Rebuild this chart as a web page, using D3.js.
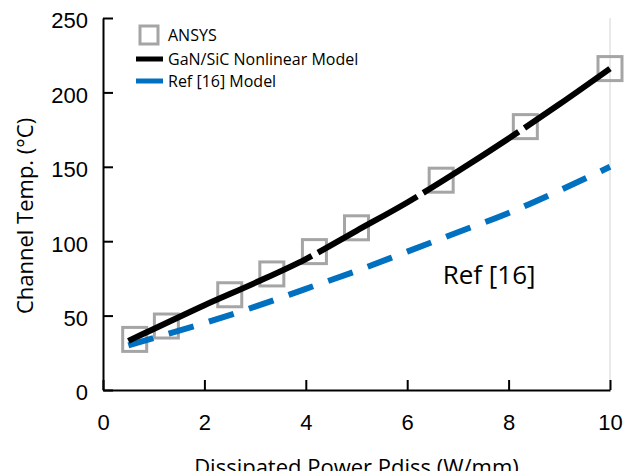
<!DOCTYPE html>
<html>
<head>
<meta charset="utf-8">
<script src="https://cdn.jsdelivr.net/npm/d3@7"></script>
<style>
  html, body { margin: 0; padding: 0; background: #fff; }
  svg { display: block; font-family: "Open Sans", sans-serif; }
</style>
</head>
<body>
<div id="chart"></div>
<script>
// ANSYS simulation points
const ansysX = [0.625, 1.25, 2.5, 3.33, 4.17, 5, 6.67, 8.33, 10];
const ansysY = [34, 43, 64, 78, 93, 109, 141, 177, 216];

// model curves
const modelX = [0.5, 1, 2, 3, 4, 5, 6, 7, 8, 9, 10];
const nonlinearY = [33, 41, 57, 72, 88, 107, 126, 147, 169, 192, 216];
const ref16Y = [30, 35, 45, 56, 68, 80, 93, 106, 119, 134, 150];

const xTicks = [0, 2, 4, 6, 8, 10];
const yTicks = [0, 50, 100, 150, 200, 250];

const width = 624;
const height = 476;
const margin = { top: 18, right: 14, bottom: 86, left: 103 };
const innerW = width - margin.left - margin.right;
const innerH = height - margin.top - margin.bottom;

const svg = d3.select('#chart').append('svg')
  .attr('width', width)
  .attr('height', height);

const g = svg.append('g')
  .attr('transform', `translate(${margin.left},${margin.top})`);

const x = d3.scaleLinear().domain([0, 10]).range([0, innerW]);
const y = d3.scaleLinear().domain([0, 250]).range([innerH, 0]);

// light right border of plot area
g.append('line')
  .attr('x1', x(10)).attr('x2', x(10))
  .attr('y1', y(250)).attr('y2', y(0))
  .attr('stroke', '#d4d4d4')
  .attr('stroke-width', 1);

// axes, ticks pointing inward
const xAxis = g.append('g')
  .attr('transform', `translate(0,${innerH})`)
  .call(d3.axisBottom(x).tickValues(xTicks).tickSizeInner(-10).tickSizeOuter(0).tickPadding(0));
xAxis.select('.domain').attr('stroke', '#000').attr('stroke-width', 2);
xAxis.selectAll('.tick line').attr('stroke', '#000').attr('stroke-width', 2);
xAxis.selectAll('.tick text').remove();
xAxis.selectAll('.tick').append('text')
  .attr('y', 40)
  .attr('text-anchor', 'middle')
  .attr('fill', '#000')
  .style('font-size', '22px')
  .text(d => d);

const yAxis = g.append('g')
  .call(d3.axisLeft(y).tickValues(yTicks).tickSizeInner(-10).tickSizeOuter(0));
yAxis.select('.domain').attr('stroke', '#000').attr('stroke-width', 2);
yAxis.selectAll('.tick line').attr('stroke', '#000').attr('stroke-width', 2);
yAxis.selectAll('.tick text').remove();
yAxis.selectAll('.tick').append('text')
  .attr('x', -15)
  .attr('y', 2)
  .attr('dy', '0.36em')
  .attr('text-anchor', 'end')
  .attr('fill', '#000')
  .style('font-size', '22px')
  .text(d => d);

// ANSYS markers (under the lines)
const ansys = ansysX.map((d, i) => [d, ansysY[i]]);
const mk = 24;
g.selectAll('.ansys')
  .data(ansys)
  .enter()
  .append('rect')
  .attr('class', 'ansys')
  .attr('x', d => x(d[0]) - mk / 2)
  .attr('y', d => y(d[1]) - mk / 2)
  .attr('width', mk)
  .attr('height', mk)
  .attr('fill', 'none')
  .attr('stroke', '#a5a5a5')
  .attr('stroke-width', 3);

const line = d3.line()
  .x(d => x(d[0]))
  .y(d => y(d[1]))
  .curve(d3.curveMonotoneX);

g.append('path')
  .datum(modelX.map((d, i) => [d, ref16Y[i]]))
  .attr('d', line)
  .attr('fill', 'none')
  .attr('stroke', '#0070c0')
  .attr('stroke-width', 6)
  .attr('stroke-dasharray', '26,16');

const nlPath = g.append('path')
  .datum(modelX.map((d, i) => [d, nonlinearY[i]]))
  .attr('d', line)
  .attr('fill', 'none')
  .attr('stroke', '#000')
  .attr('stroke-width', 6);

// the black curve shows a few short breaks; find path lengths at those x spots
const breaksAt = [4.12, 6.2, 8.2];
const node = nlPath.node();
const total = node.getTotalLength();
function lengthAtX(px) {
  let lo = 0, hi = total;
  for (let k = 0; k < 40; k++) {
    const mid = (lo + hi) / 2;
    if (node.getPointAtLength(mid).x < px) lo = mid; else hi = mid;
  }
  return lo;
}
const gap = 7;
let prev = 0;
const dash = [];
breaksAt.forEach(b => {
  const L = lengthAtX(x(b));
  dash.push(L - prev, gap);
  prev = L + gap;
});
dash.push(total);
nlPath.attr('stroke-dasharray', dash.join(','));

// "Ref [16]" annotation
g.append('text')
  .attr('x', x(6.7))
  .attr('y', y(71))
  .attr('fill', '#000')
  .style('font-size', '26px')
  .text('Ref [16]');

// legend
const legend = svg.append('g');
legend.append('rect')
  .attr('x', 140).attr('y', 26)
  .attr('width', 18).attr('height', 18)
  .attr('fill', 'none')
  .attr('stroke', '#a5a5a5')
  .attr('stroke-width', 3);
legend.append('line')
  .attr('x1', 136).attr('x2', 163)
  .attr('y1', 59).attr('y2', 59)
  .attr('stroke', '#000').attr('stroke-width', 5);
legend.append('line')
  .attr('x1', 136).attr('x2', 163)
  .attr('y1', 81).attr('y2', 81)
  .attr('stroke', '#0070c0').attr('stroke-width', 5);
const legendLabels = ['ANSYS', 'GaN/SiC Nonlinear Model', 'Ref [16] Model'];
const legendY = [35, 59, 81];
legend.selectAll('.lt')
  .data(legendLabels)
  .enter()
  .append('text')
  .attr('class', 'lt')
  .attr('x', 168)
  .attr('y', (d, i) => legendY[i])
  .attr('dy', '0.36em')
  .attr('fill', '#000')
  .style('font-size', '16px')
  .text(d => d);

// axis titles
svg.append('text')
  .attr('transform', `translate(33,${margin.top + innerH / 2 + 12}) rotate(-90)`)
  .attr('text-anchor', 'middle')
  .attr('fill', '#000')
  .style('font-size', '22px')
  .text('Channel Temp. (°C)');

svg.append('text')
  .attr('x', margin.left + innerW / 2)
  .attr('y', 475)
  .attr('text-anchor', 'middle')
  .attr('fill', '#000')
  .style('font-size', '22px')
  .text('Dissipated Power Pdiss (W/mm)');

// page cut: the caption below covers the lower part of the x title
svg.append('rect')
  .attr('x', 0).attr('y', 471)
  .attr('width', width).attr('height', 5)
  .attr('fill', '#fff');
</script>
</body>
</html>
